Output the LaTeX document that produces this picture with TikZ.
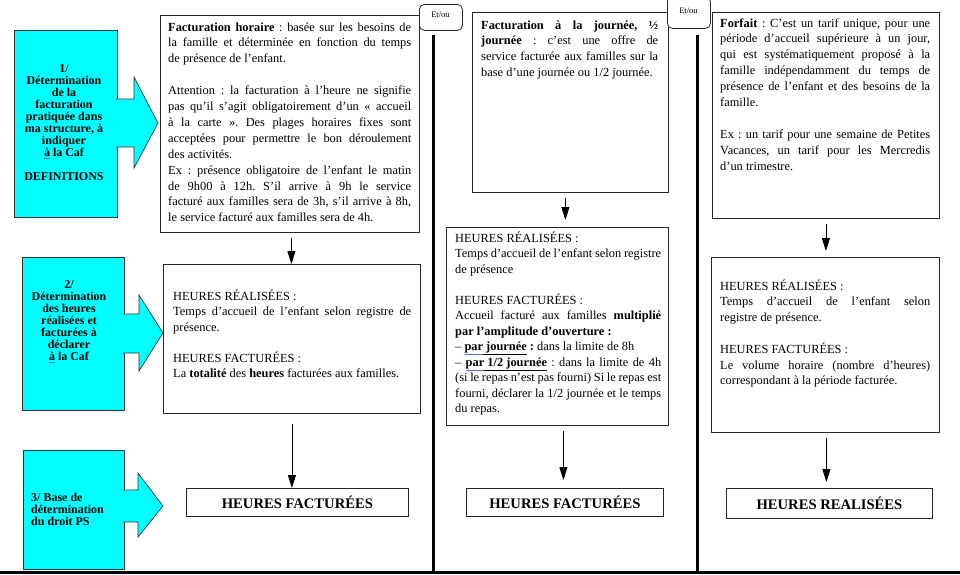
\documentclass[tikz,border=0pt]{standalone}
\usepackage{fontspec}
\setmainfont{Liberation Serif}
\usetikzlibrary{arrows.meta,calc}
\definecolor{cyanbox}{HTML}{00FFFF}
\definecolor{ulblue}{HTML}{4A6FD0}
\frenchspacing
\newcommand\bodytext[3]{\begin{minipage}[t]{#1}\frenchspacing\fontsize{12.4}{#2}\selectfont\tolerance=10000\hbadness=10000 #3\end{minipage}}
\newcommand\ulk[1]{\underline{\vphantom{pj}#1}}
\newcommand\ulb[1]{\textcolor{ulblue}{\underline{\textcolor{black}{\vphantom{pj}#1}}}}
\newcommand\ulc[1]{\textcolor{ulblue}{\underline{\textcolor{black}{#1}}}}
\newcommand\emptyln{\par\mbox{}\par}
\tikzset{
  x=1pt, y=-1pt,
  txtbox/.style={draw=black!85, line width=0.8pt, anchor=north west, inner sep=0pt},
  cybox/.style={draw=black!80, fill=cyanbox, line width=0.7pt, anchor=north west, inner sep=0pt},
  cyarrow/.style={fill=cyanbox, draw=black!80, line width=0.7pt},
  cytext/.style={font=\fontsize{12}{12}\selectfont\bfseries, align=center, inner sep=0pt},
  body/.style={anchor=base west, inner sep=0pt},
  resbox/.style={draw=black!85, line width=0.8pt, anchor=north west, inner sep=0pt, font=\fontsize{14.6}{16}\selectfont\bfseries},
  etou/.style={draw=black!85, line width=0.8pt, rounded corners=5pt, anchor=north west, inner sep=0pt, fill=white},
  etoutext/.style={font=\fontsize{8.5}{9}\selectfont, inner sep=0pt},
  arr/.style={line width=0.8pt, -{Triangle[length=13pt,width=8pt]}},
  sepline/.style={line width=3pt},
}
\begin{document}
\begin{tikzpicture}
\useasboundingbox (0,0) rectangle (960,574);

% ---------- cyan boxes with block arrows ----------
\node[cybox, minimum width=103pt, minimum height=187pt] (cy1) at (14,30) {};
\filldraw[cyarrow] (116,99) -- (134,99) -- (134,77) -- (158,123) -- (134,168) -- (134,147) -- (116,147);
\node[cytext] (cy1t) at (64,123) {1/\\Détermination\\de la\\facturation\\pratiquée dans\\ma structure, à\\indiquer\\\ulc{à} la Caf\\[12pt]DEFINITIONS};

\node[cybox, minimum width=102pt, minimum height=153pt] (cy2) at (22,257) {};
\filldraw[cyarrow] (123,314) -- (139,314) -- (139,295) -- (163,333) -- (139,371) -- (139,353) -- (123,353);
\node[cytext] (cy2t) at (69,322) {2/\\Détermination\\des heures\\réalisées et\\facturées à\\déclarer\\\ulc{à} la Caf};

\node[cybox, minimum width=101pt, minimum height=119pt] (cy3) at (23,450) {};
\filldraw[cyarrow] (123,490) -- (138,490) -- (138,473) -- (163,506) -- (138,537) -- (138,522) -- (123,522);
\node[cytext, align=left, anchor=west] (cy3t) at (31,509) {3/ Base de\\détermination\\du droit PS};

% ---------- column 1 ----------
\node[txtbox, minimum width=259pt, minimum height=217pt] (A1) at (160,15) {};
\node[body] (A1t) at (168,31) {\bodytext{243pt}{15.9pt}{%
\textbf{Facturation horaire} : basée sur les besoins de\linebreak
la famille et déterminée en fonction du temps\linebreak
de présence de l’enfant.\emptyln
Attention : la facturation à l’heure ne signifie\linebreak
pas qu’il s’agit obligatoirement d’un «~accueil\linebreak
à la carte~». Des plages horaires fixes sont\linebreak
acceptées pour permettre le bon déroulement\linebreak
des activités.\par
Ex : présence obligatoire de l’enfant le matin\linebreak
de 9h00 à 12h. S’il arrive à 9h le service\linebreak
facturé aux familles sera de 3h, s’il arrive à 8h,\linebreak
le service facturé aux familles sera de 4h.}};

\node[txtbox, minimum width=257pt, minimum height=149pt] (A2) at (163,264) {};
\node[body] (A2t) at (173,300) {\bodytext{238pt}{15.5pt}{%
HEURES RÉALISÉES :\par
Temps d’accueil de l’enfant selon registre de\linebreak
présence.\emptyln
HEURES FACTURÉES :\par
La \textbf{totalité} des \textbf{heures} facturées aux familles.}};

\node[resbox, minimum width=222pt, minimum height=28pt] (D1) at (186,488) {HEURES FACTURÉES};

% ---------- column 2 ----------
\node[txtbox, minimum width=196pt, minimum height=180pt] (B1) at (472,12) {};
\node[body] (B1t) at (481,29) {\bodytext{177pt}{15.8pt}{%
\textbf{Facturation à la journée, ½}\linebreak
\textbf{journée} : c’est une offre de\linebreak
service facturée aux familles sur la\linebreak
base d’une journée ou 1/2 journée.}};

\node[txtbox, minimum width=222pt, minimum height=198pt] (B2) at (446,227) {};
\node[body] (B2t) at (455,242) {\bodytext{206pt}{15.5pt}{%
HEURES RÉALISÉES :\par
Temps d’accueil de l’enfant selon registre\linebreak
de présence\emptyln
HEURES FACTURÉES :\par
Accueil facturé aux familles \textbf{multiplié}\linebreak
\textbf{par l’amplitude d’ouverture :}\par
– \textbf{\ulb{par}\ulk{\ journée} :} dans la limite de 8h\par
– \textbf{\ulb{par}\ulk{\ 1/2 journée}} : dans la limite de 4h\linebreak
(si le repas n’est pas fourni) Si le repas est\linebreak
fourni, déclarer la 1/2 journée et le temps\linebreak
du repas.}};

\node[resbox, minimum width=197pt, minimum height=28pt] (D2) at (466,488) {HEURES FACTURÉES};

% ---------- column 3 ----------
\node[txtbox, minimum width=227pt, minimum height=206pt] (C1) at (712,12) {};
\node[body] (C1t) at (720,27) {\bodytext{210pt}{15.9pt}{%
\textbf{Forfait} : C’est un tarif unique, pour une\linebreak
période d’accueil supérieure à un jour,\linebreak
qui est systématiquement proposé à la\linebreak
famille indépendamment du temps de\linebreak
présence de l’enfant et des besoins de la\linebreak
famille.\emptyln
Ex : un tarif pour une semaine de Petites\linebreak
Vacances, un tarif pour les Mercredis\linebreak
d’un trimestre.}};

\node[txtbox, minimum width=228pt, minimum height=175pt] (C2) at (711,257) {};
\node[body] (C2t) at (720,290) {\bodytext{210pt}{15.8pt}{%
HEURES RÉALISÉES :\par
Temps d’accueil de l’enfant selon\linebreak
registre de présence.\emptyln
HEURES FACTURÉES :\par
Le volume horaire (nombre d’heures)\linebreak
correspondant à la période facturée.}};

\node[resbox, minimum width=206pt, minimum height=30pt] (D3) at (726,488) {HEURES REALISÉES};

% ---------- Et/ou ----------
\node[etou, minimum width=43pt, minimum height=26pt] (E1) at (419,4) {};
\node[etoutext] (E1t) at (440.5,15) {Et/ou};
\node[etou, minimum width=43pt, minimum height=32pt] (E2) at (667,-4) {};
\node[etoutext] (E2t) at (688.5,11) {Et/ou};

% ---------- separators ----------
\coordinate (s1t) at (433,35);
\coordinate (s1b) at (433,572);
\coordinate (s2t) at (697,35);
\coordinate (s2b) at (697,572);
\coordinate (bl) at (0,572);
\coordinate (br) at (960,572);
\draw[sepline] (s1t) -- (s1b);
\draw[sepline] (s2t) -- (s2b);
\draw[sepline] (bl) -- (br);

% ---------- arrows ----------
\draw[arr] ($(A1.south)+(1.5,5)$) -- ($(A1.south |- A2.north)+(1.5,0)$);
\draw[arr] ($(A2.south)+(0,10)$) -- (A2.south |- D1.north);
\draw[arr] ($(B1.south)+(-5,5)$) -- ($(B1.south |- B2.north)+(-5,-7)$);
\draw[arr] ($(B2.south)+(6,5)$) -- ($(B2.south |- D2.north)+(6,-8)$);
\draw[arr] ($(C1.south)+(0,5)$) -- ($(C1.south |- C2.north)+(0,-6)$);
\draw[arr] ($(C2.south)+(1,5)$) -- ($(C2.south |- D3.north)+(1,-6)$);
\end{tikzpicture}
\end{document}
